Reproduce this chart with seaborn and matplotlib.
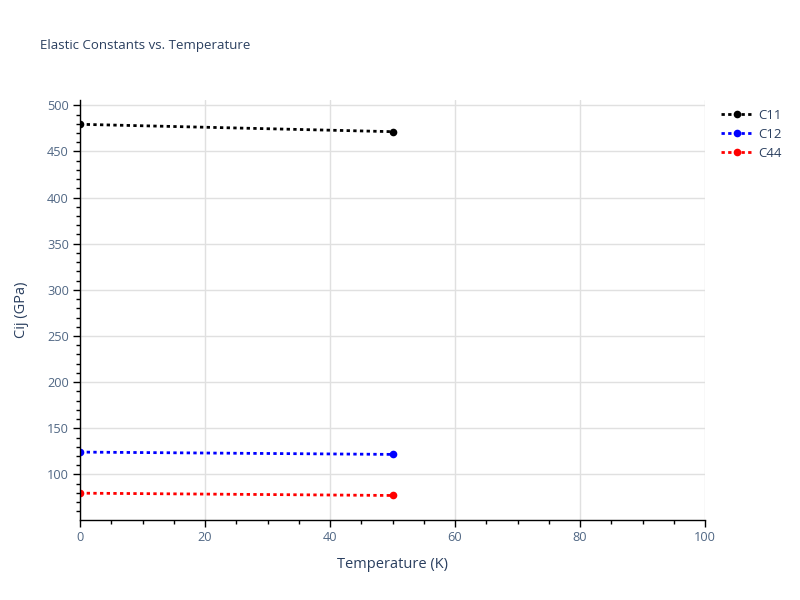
#!/usr/bin/env python3
"""Elastic constants vs. temperature, dotted lines with markers."""
import matplotlib
matplotlib.use("Agg")
import matplotlib.pyplot as plt
from matplotlib.ticker import MultipleLocator
import pandas as pd
import seaborn as sns

temperature = [0, 50]
c11 = [479.4, 471.4]
c12 = [124.2, 121.7]
c44 = [79.7, 77.2]
series_names = ["C11", "C12", "C44"]
series_colors = ["black", "blue", "red"]

df = pd.DataFrame({
    "T": temperature * 3,
    "Cij": c11 + c12 + c44,
    "name": [n for n in series_names for _ in temperature],
})

sns.set_style("white")
plt.rcParams["font.family"] = ["Open Sans", "DejaVu Sans"]

text_col = "#2a3f5f"
tick_col = "#506784"

fig = plt.figure(figsize=(8, 6), dpi=100)
ax = fig.add_axes([0.1, 0.1333, 0.78125, 0.70])

sns.lineplot(
    data=df, x="T", y="Cij", hue="name", palette=series_colors,
    hue_order=series_names, marker="o", markersize=5.5, markeredgewidth=0,
    linestyle=":", linewidth=2, ax=ax, legend=False,
)
for line in ax.get_lines():
    line.set_dashes([1.2, 1.2])

ax.set_xlim(0, 100)
ax.set_ylim(50.6, 505.7)
ax.xaxis.set_major_locator(MultipleLocator(20))
ax.xaxis.set_minor_locator(MultipleLocator(5))
ax.yaxis.set_major_locator(MultipleLocator(50))
ax.yaxis.set_minor_locator(MultipleLocator(10))
ax.grid(True, which="major", color="#e0e0e0", linewidth=1)
ax.set_axisbelow(True)

for side in ["top", "right"]:
    ax.spines[side].set_visible(False)
for side in ["left", "bottom"]:
    ax.spines[side].set_color("black")
    ax.spines[side].set_linewidth(1)

ax.tick_params(which="major", direction="out", length=5, width=1,
               color="black", labelsize=9.2, labelcolor=tick_col, pad=3)
ax.tick_params(which="minor", direction="out", length=3, width=1,
               color="black")
ax.tick_params(axis="x", which="both", bottom=True)
ax.tick_params(axis="y", which="both", left=True)

ax.set_xlabel("Temperature (K)", fontsize=10.5, color=text_col, labelpad=9)
ax.set_ylabel("Cij (GPa)", fontsize=10.5, color=text_col, labelpad=13)

fig.text(0.05, 1 - 45 / 600, "Elastic Constants vs. Temperature",
         fontsize=9.5, color=text_col, va="center", ha="left")

# legend on the right, plotly-like
handles = [
    plt.Line2D([0], [0], color=c, linestyle=":", linewidth=2, marker="o",
               markersize=5.5, markeredgewidth=0, dashes=[1.2, 1.2])
    for c in series_colors
]
leg = fig.legend(handles, series_names, loc="upper left",
                 bbox_to_anchor=(0.887, 0.838), frameon=False,
                 fontsize=9.5, handlelength=2.3, handletextpad=0.45,
                 labelspacing=0.45, labelcolor=text_col)

fig.savefig("out.png", dpi=100)
